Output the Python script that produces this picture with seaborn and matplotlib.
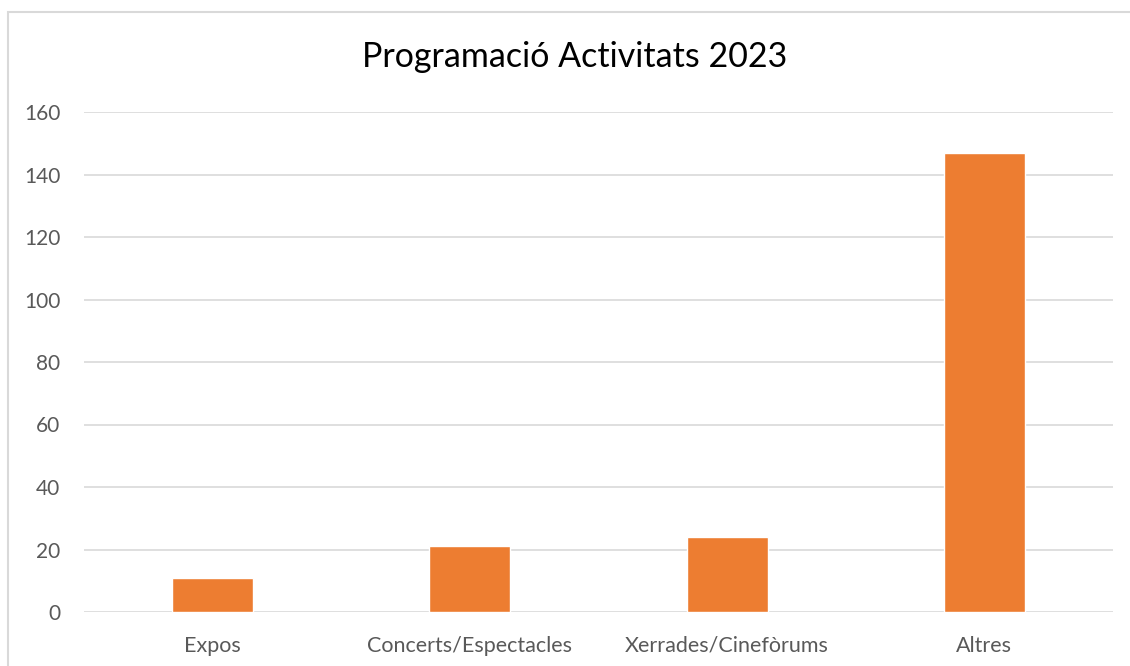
import matplotlib
matplotlib.use("Agg")
import matplotlib.pyplot as plt
import seaborn as sns
import pandas as pd
from matplotlib.patches import Rectangle

categories = ["Expos", "Concerts/Espectacles", "Xerrades/Cinefòrums", "Altres"]
values = [11, 21, 24, 147]
yticks = [0, 20, 40, 60, 80, 100, 120, 140, 160]
title = "Programació Activitats 2023"

sns.set_theme(style="white")
plt.rcParams["font.family"] = ["Lato", "DejaVu Sans"]

df = pd.DataFrame({"cat": categories, "val": values})

fig = plt.figure(figsize=(11.3, 6.66), dpi=100)
ax = fig.add_axes([84/1130, 1-612/666, (1113-84)/1130, 500/666])
sns.barplot(data=df, x="cat", y="val", color="#ED7D31", width=0.315,
            saturation=1, ax=ax, zorder=3)
ax.set_ylim(0, 160)
ax.set_xlim(-0.5, len(categories)-0.5)
ax.set_yticks(yticks)
ax.yaxis.grid(True, color="#D9D9D9", linewidth=1.2, zorder=0)
ax.xaxis.grid(False)
for s in ax.spines.values():
    s.set_visible(False)
ax.tick_params(axis="x", length=0, labelsize=15.5, colors="#595959", pad=17)
ax.tick_params(axis="y", length=0, labelsize=15, colors="#595959", pad=17)
ax.set_xlabel("")
ax.set_ylabel("")
fig.text(575/1130, 1-57/666, title, ha="center", va="center", fontsize=24.5, color="#000000")

fig.patches.append(Rectangle((8/1130, -0.1), 1.2, 1-12/666+0.1, transform=fig.transFigure,
                             fill=False, edgecolor="#D9D9D9", linewidth=1.5))
fig.savefig("out.png", dpi=100)
